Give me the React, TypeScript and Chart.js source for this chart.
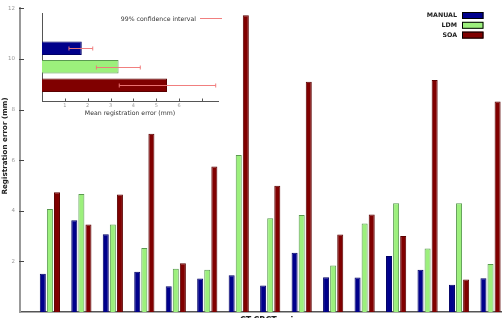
import React, { useEffect, useRef } from "react";
import { Chart, registerables } from "chart.js";
Chart.register(...registerables);

Chart.defaults.font.family = "'DejaVu Sans', sans-serif";

// ---- data ----
const pairs = ["1", "2", "3", "4", "5", "6", "7", "8", "9", "10", "11", "12", "13", "14", "15"];
const seriesNames = ["MANUAL", "LDM", "SOA"];
const manual = [1.51, 3.63, 3.07, 1.59, 1.02, 1.32, 1.45, 1.05, 2.34, 1.37, 1.36, 2.21, 1.67, 1.08, 1.33];
const ldm = [4.07, 4.66, 3.46, 2.53, 1.71, 1.67, 6.2, 3.7, 3.83, 1.84, 3.5, 4.3, 2.51, 4.3, 1.9];
const soa = [4.73, 3.46, 4.64, 7.04, 1.93, 5.75, 11.73, 4.99, 9.1, 3.06, 3.85, 3.0, 9.17, 1.28, 8.32];
const yTicks = [2, 4, 6, 8, 10, 12];

const meanError = [1.74, 3.35, 5.47];
const ciLow = [1.18, 2.38, 3.38];
const ciHigh = [2.22, 4.3, 7.6];
const insetTicks = [1, 2, 3, 4, 5, 6, 7];
const insetTickLabels = ["1", "2", "3", "4", "5", "6", ""];

const fills = ["#00008b", "#9cf07c", "#800000"];
const borders = ["#000066", "#5a9a50", "#5a0000"];
const ciColor = "rgba(240,120,120,0.95)";

export default function App() {
  const mainRef = useRef<HTMLCanvasElement>(null);
  const insetRef = useRef<HTMLCanvasElement>(null);

  useEffect(() => {
    const series = [manual, ldm, soa];
    const legendPlugin = {
      id: "rightLegend",
      afterDraw(chart: any) {
        const ctx = chart.ctx;
        ctx.save();
        chart.data.datasets.forEach((ds: any, i: number) => {
          const top = 12 + i * 9.8;
          ctx.fillStyle = ds.backgroundColor;
          ctx.fillRect(462, top, 21.5, 7);
          ctx.strokeStyle = "#000";
          ctx.lineWidth = 1;
          ctx.strokeRect(462.5, top + 0.5, 20.5, 6);
          ctx.fillStyle = "#222";
          ctx.font = "bold 6.3px 'DejaVu Sans', sans-serif";
          ctx.textAlign = "right";
          ctx.textBaseline = "middle";
          ctx.fillText(ds.label, 457, top + 3.8);
        });
        // inward tick marks on y axis
        const ys = chart.scales.y;
        const left = chart.chartArea.left;
        ctx.strokeStyle = "#444";
        ctx.lineWidth = 1;
        yTicks.forEach((v) => {
          const y = Math.round(ys.getPixelForValue(v)) + 0.5;
          ctx.beginPath();
          ctx.moveTo(left - 1, y);
          ctx.lineTo(left + 4, y);
          ctx.stroke();
        });
        // y axis title
        ctx.save();
        ctx.translate(5.5, 146);
        ctx.rotate(-Math.PI / 2);
        ctx.fillStyle = "#222";
        ctx.font = "bold 7.2px 'DejaVu Sans', sans-serif";
        ctx.textAlign = "center";
        ctx.textBaseline = "middle";
        ctx.fillText("Registration error (mm)", 0, 0);
        ctx.restore();
        ctx.restore();
      },
    };

    const main = new Chart(mainRef.current!, {
      type: "bar",
      data: {
        labels: pairs,
        datasets: seriesNames.map((name, k) => ({
          label: name,
          data: series[k].map((v, i) => ({ x: i, y: v })),
          backgroundColor: fills[k],
          borderColor: borders[k],
          borderWidth: 1,
          categoryPercentage: 0.675,
          barPercentage: 0.85,
        })),
      },
      options: {
        animation: false,
        responsive: false,
        events: [],
        layout: { padding: { top: 6, left: 0, right: 0, bottom: 0 } },
        plugins: { legend: { display: false }, tooltip: { enabled: false } },
        scales: {
          x: {
            type: "linear",
            offset: false,
            min: -0.95,
            max: 15,
            ticks: { display: false },
            grid: { display: false, drawTicks: false, offset: false },
            border: { color: "#555", width: 1.5 },
            title: {
              display: true,
              text: "CT-CBCT pairs",
              color: "#222",
              font: { size: 8, weight: "bold" },
              padding: 0,
            },
            afterFit: (s: any) => {
              s.height = 14;
            },
          },
          y: {
            min: 0,
            max: 12,
            ticks: {
              stepSize: 2,
              color: "#999",
              font: { size: 5.5 },
              padding: 5,
              callback: (v: any) => (yTicks.includes(v) ? String(v) : ""),
            },
            grid: { display: false, drawTicks: false },
            border: { color: "#999", width: 2 },
            afterFit: (s: any) => {
              s.width = 20;
            },
          },
        },
      },
      plugins: [legendPlugin],
    } as any);

    const insetPlugin = {
      id: "insetExtras",
      afterDatasetsDraw(chart: any) {
        const ctx = chart.ctx;
        const xs = chart.scales.x;
        const ys = chart.scales.y;
        ctx.save();
        ctx.strokeStyle = ciColor;
        ctx.lineWidth = 1;
        meanError.forEach((_, i) => {
          const y = Math.round(ys.getPixelForValue(meanError.length - 1 - i)) + 0.5;
          const x1 = xs.getPixelForValue(ciLow[i]);
          const x2 = xs.getPixelForValue(ciHigh[i]);
          ctx.beginPath();
          ctx.moveTo(x1, y);
          ctx.lineTo(x2, y);
          ctx.moveTo(x1, y - 2);
          ctx.lineTo(x1, y + 2);
          ctx.moveTo(x2, y - 2);
          ctx.lineTo(x2, y + 2);
          ctx.stroke();
        });
        // tick marks on x axis
        const bottom = chart.chartArea.bottom;
        ctx.strokeStyle = "#555";
        insetTicks.forEach((v) => {
          const x = Math.round(xs.getPixelForValue(v)) + 0.5;
          ctx.beginPath();
          ctx.moveTo(x, bottom - 3);
          ctx.lineTo(x, bottom + 0.5);
          ctx.stroke();
        });
        // legend
        ctx.fillStyle = "#333";
        ctx.font = "6.2px 'DejaVu Sans', sans-serif";
        ctx.textAlign = "right";
        ctx.textBaseline = "middle";
        ctx.fillText("99% confidence interval", 196, 19);
        ctx.strokeStyle = ciColor;
        ctx.beginPath();
        ctx.moveTo(200, 18.5);
        ctx.lineTo(222, 18.5);
        ctx.stroke();
        ctx.restore();
      },
    };

    const inset = new Chart(insetRef.current!, {
      type: "bar",
      data: {
        datasets: [
          {
            label: "Mean registration error",
            data: meanError.map((v, i) => ({ x: v, y: meanError.length - 1 - i })),
            backgroundColor: fills,
            borderColor: borders,
            borderWidth: 1,
            categoryPercentage: 1,
            barPercentage: 0.84,
          },
        ],
      },
      options: {
        animation: false,
        responsive: false,
        events: [],
        indexAxis: "y",
        layout: { padding: { top: 13, left: 42, right: 22, bottom: 0 } },
        plugins: { legend: { display: false }, tooltip: { enabled: false } },
        scales: {
          x: {
            type: "linear",
            offset: false,
            min: 0,
            max: 7.7,
            ticks: {
              stepSize: 1,
              includeBounds: false,
              color: "#999",
              font: { size: 5 },
              padding: 1,
              maxRotation: 0,
              autoSkip: false,
              callback: (v: any) => {
                const k = insetTicks.indexOf(v);
                return k >= 0 ? insetTickLabels[k] : "";
              },
            },
            grid: { display: false, drawTicks: false },
            border: { color: "#555", width: 1 },
            title: {
              display: true,
              text: "Mean registration error (mm)",
              color: "#333",
              font: { size: 6.2 },
              padding: 0,
            },
            afterFit: (s: any) => {
              s.height = 15.5;
            },
          },
          y: {
            type: "linear",
            offset: false,
            min: -0.88,
            max: 3.91,
            ticks: { display: false },
            grid: { display: false, drawTicks: false, offset: false },
            border: { color: "#555", width: 1 },
            afterFit: (s: any) => {
              s.width = 0;
            },
          },
        },
      },
      plugins: [insetPlugin],
    } as any);

    return () => {
      main.destroy();
      inset.destroy();
    };
  }, []);

  return (
    <div
      style={{
        position: "fixed",
        left: 0,
        top: 0,
        width: 502,
        height: 318,
        overflow: "hidden",
        background: "#fff",
      }}
    >
      <canvas
        ref={mainRef}
        width={522}
        height={326}
        style={{ position: "absolute", left: 0, top: 0, width: 522, height: 326 }}
      />
      <canvas
        ref={insetRef}
        width={240}
        height={117}
        style={{ position: "absolute", left: 0, top: 0, width: 240, height: 117 }}
      />
    </div>
  );
}
